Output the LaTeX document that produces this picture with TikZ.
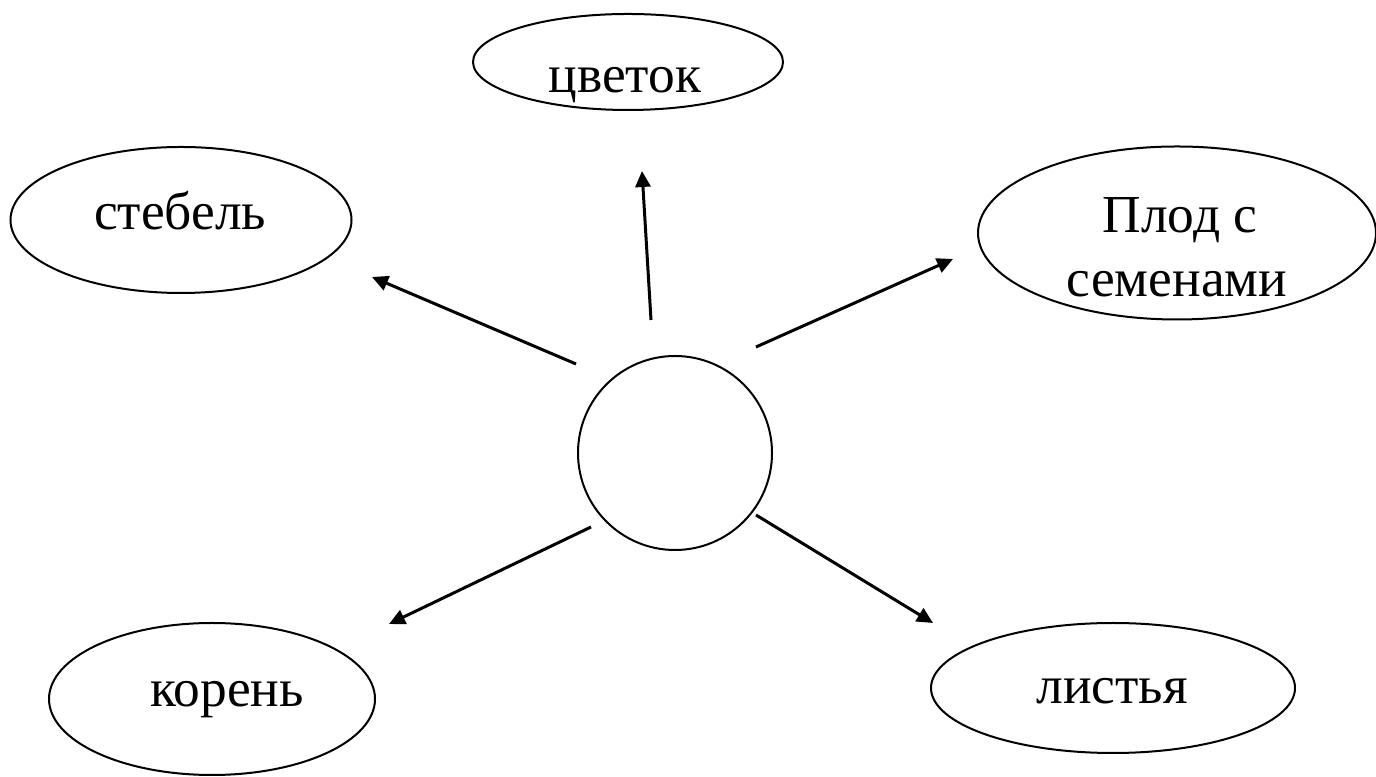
\documentclass[tikz,border=0pt]{standalone}
\usepackage{fontspec}
\setmainfont{Liberation Serif}
\usetikzlibrary{arrows.meta,shapes.geometric}
\tikzset{
	oval/.style={draw, ellipse, line width=0.04cm, inner sep=0pt},
	ring/.style={draw, circle, line width=0.04cm, inner sep=0pt},
	word/.style={anchor=base, inner sep=0pt, font=\fontsize{30.4}{36.4}\selectfont},
	pointer/.style={line width=0.06cm, -{Triangle[length=0.32cm,width=0.3cm]}}
}

\begin{document}
\begin{tikzpicture}
		%%%%% START %%%%%
		\useasboundingbox (0, 0) rectangle (27.52, 15.54);
		
		\node[ring, minimum size=3.88cm] (hub) at (13.50, 6.48) {};
		
		\node[oval, minimum width=6.2cm, minimum height=1.92cm] (cvetok) at (12.56, 14.30) {};
		\node[word] (cvetok-txt) at (12.50, 13.68) {цветок};
		
		\node[oval, minimum width=6.82cm, minimum height=2.92cm] (stebel) at (3.62, 11.14) {};
		\node[word] (stebel-txt) at (3.60, 10.94) {стебель};
		
		\node[oval, minimum width=7.96cm, minimum height=3.46cm] (plod) at (23.54, 10.88) {};
		\node[word] (plod-txt1) at (23.60, 10.88) {Плод с};
		\node[word] (plod-txt2) at (23.54, 9.60) {семенами};
		
		\node[oval, minimum width=6.52cm, minimum height=3.04cm] (koren) at (4.24, 1.56) {};
		\node[word] (koren-txt) at (4.54, 1.40) {корень};
		
		\node[oval, minimum width=7.28cm, minimum height=2.60cm] (listya) at (22.26, 1.78) {};
		\node[word] (listya-txt) at (22.24, 1.46) {листья};
		
		% arrow ends
		\coordinate (a1) at (13.02, 9.14);  \coordinate (b1) at (12.84, 12.12);
		\coordinate (a2) at (11.52, 8.26);  \coordinate (b2) at (7.44, 10.00);
		\coordinate (a3) at (15.12, 8.60);  \coordinate (b3) at (19.06, 10.36);
		\coordinate (a4) at (11.82, 5.00);  \coordinate (b4) at (7.78, 3.06);
		\coordinate (a5) at (15.12, 5.24);  \coordinate (b5) at (18.66, 3.08);
		
		\draw[pointer] (a1) -- (b1);
		\draw[pointer] (a2) -- (b2);
		\draw[pointer] (a3) -- (b3);
		\draw[pointer] (a4) -- (b4);
		\draw[pointer] (a5) -- (b5);
		%%%%% END %%%%%
\end{tikzpicture}
\end{document}
